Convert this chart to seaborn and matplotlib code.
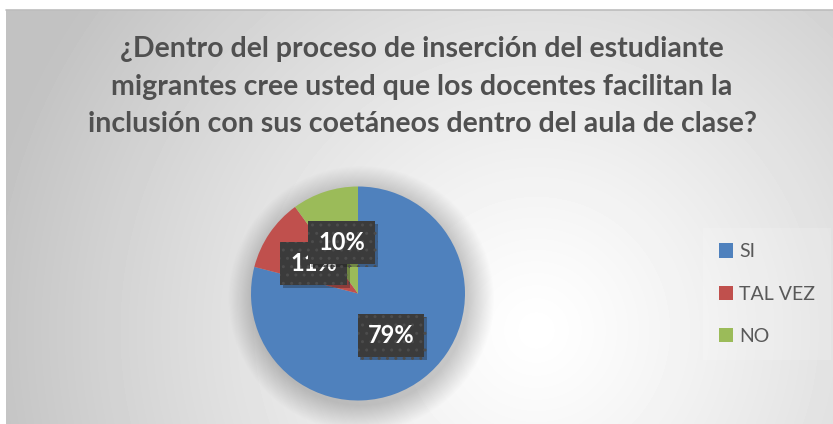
import numpy as np
import seaborn as sns
import matplotlib.pyplot as plt
import matplotlib.patheffects as pe
from matplotlib.patches import Circle
from matplotlib.lines import Line2D

# data
categories = ['SI', 'TAL VEZ', 'NO']
values = [79, 11, 10]
colors = ['#4F81BD', '#C0504D', '#9BBB59']
title = ('¿Dentro del proceso de inserción del estudiante\n'
         'migrantes cree usted que los docentes facilitan la\n'
         'inclusión con sus coetáneos dentro del aula de clase?')

sns.set_style('white')
plt.rcParams['font.family'] = ['Lato', 'DejaVu Sans']

W, H = 833, 424
fig = plt.figure(figsize=(W / 100, H / 100), dpi=100)
fig.patch.set_facecolor('white')

# radial gradient background of the chart area
bg = fig.add_axes([6 / W, 0, 1 - 6 / W, (H - 10) / H])
yy, xx = np.mgrid[0:414, 0:827]
d = np.hypot(xx - 530, yy - 320) / 560
shade = 1 - 0.24 * np.clip(d, 0, 1) ** 1.2
bg.imshow(shade, cmap='gray', vmin=0, vmax=1, aspect='auto',
          interpolation='bilinear')
bg.axis('off')
fig.add_artist(Line2D([6 / W, 1], [(H - 9.5) / H] * 2, color='#bdbdbd',
                      lw=1.2, transform=fig.transFigure))

# title
fig.text(422 / W, 1 - 86.5 / H, title, ha='center', va='center',
         fontsize=20.5, fontweight='bold', color='#505050', linespacing=1.54)

# pie
ax = fig.add_axes([(358 - 107) / W, (H - 293.5 - 107) / H, 214 / W, 214 / H])
for i in range(25):
    ax.add_patch(Circle((0.03, -0.05), 1 + 0.01 * i, color='black',
                        alpha=0.009, lw=0, zorder=0, clip_on=False))
wedges, texts, autotexts = ax.pie(values, colors=colors, startangle=90,
                                  counterclock=False, autopct='%1.0f%%',
                                  pctdistance=0.5,
                                  wedgeprops=dict(linewidth=0))
for t in autotexts:
    t.set_color('white')
    t.set_fontsize(17)
    t.set_fontweight('bold')
    t.set_bbox(dict(boxstyle='square,pad=0.42', facecolor='#3b3b3b',
                    edgecolor='#4c4c4c', hatch='..', linewidth=0))
    t.get_bbox_patch().set_path_effects(
        [pe.SimplePatchShadow(offset=(2, -2), alpha=0.3), pe.Normal()])
ax.set_xlim(-1, 1)
ax.set_ylim(-1, 1)
ax.set_aspect('equal')
ax.axis('off')

# legend
leg = fig.legend(wedges, categories, loc='center left',
                 bbox_to_anchor=(709 / W, 1 - 294 / H), borderaxespad=0,
                 fontsize=14, handlelength=0.75, handleheight=0.75,
                 handletextpad=0.3, labelspacing=1.3, frameon=True,
                 borderpad=0.5)
leg.get_frame().set_facecolor('white')
leg.get_frame().set_alpha(0.15)
leg.get_frame().set_linewidth(0)
leg.get_frame().set_boxstyle('square')
for txt in leg.get_texts():
    txt.set_color('#595959')

fig.savefig('out.png', dpi=100)
